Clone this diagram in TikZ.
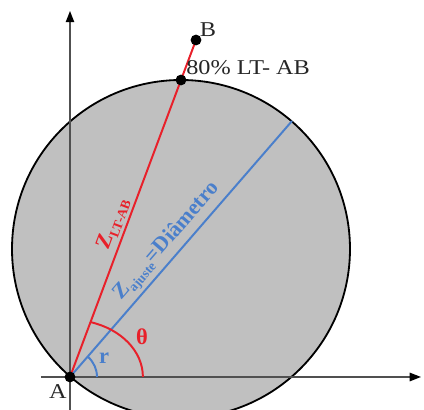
\documentclass[tikz,border=0pt]{standalone}
\usepackage{fontspec}
\setmainfont[FakeStretch=1.15]{Liberation Serif}
\newfontfamily\zfont{Liberation Serif}
\usepackage{tikz}
\usetikzlibrary{arrows.meta,positioning}
\definecolor{cgray}{HTML}{C0C0C0}
\definecolor{cred}{HTML}{E8202A}
\definecolor{cblue}{HTML}{4A7FCB}
\definecolor{caxis}{HTML}{505050}
\tikzset{
  lbl/.style={font=\fontsize{15}{17}\selectfont,text=black!85},
  circ/.style={draw=black,fill=cgray,line width=1.3pt},
  axis/.style={draw=caxis,line width=1.1pt,-{Triangle[length=8pt,width=6pt,color=black]}},
  redln/.style={draw=cred,line width=1.4pt},
  blueln/.style={draw=cblue,line width=1.4pt},
  zred/.style={font=\zfont\fontsize{15.5}{17}\selectfont\bfseries,text=cred},
  zblue/.style={font=\zfont\fontsize{15.5}{17}\selectfont\bfseries,text=cblue},
  ang/.style={font=\zfont\fontsize{16}{18}\selectfont\bfseries},
  dot/.style={circle,fill=black,inner sep=0pt,minimum size=0.27cm},
}
\newcommand{\zsub}[1]{\raisebox{-0.4ex}{\fontsize{9.5}{10}\selectfont #1}}
\begin{document}
\begin{tikzpicture}[x=0.025cm,y=0.025cm]
  \useasboundingbox (0,0) rectangle (424,410);
  \clip (0,0) rectangle (424,410);
  % pontos base
  \coordinate (A) at (70,33);
  \coordinate (O) at (181,161);
  \coordinate (P) at (181,330);
  \coordinate (B) at (196,370);
  \coordinate (D) at (292,289);
  \coordinate (xe) at (41,33);
  \coordinate (xd) at (421,33);
  \coordinate (yb) at (70,0);
  \coordinate (yt) at (70,399);
  % circunferencia
  \draw[circ] (O) circle[radius=169];
  % eixos
  \draw[axis] (xe) -- (xd);
  \draw[axis] (yb) -- (yt);
  % retas
  \draw[redln] (A) -- node[zred,sloped,above,pos=0.5,inner sep=2pt] (zlt) {Z\zsub{LT-AB}} (P) -- (B);
  \draw[blueln] (A) -- node[zblue,sloped,above,pos=0.49,inner sep=2pt] (zaj) {Z\zsub{ajuste}=Diâmetro} (D);
  % angulos
  \draw[redln] (A) ++(20,55) arc[start angle=74,end angle=0,x radius=73,y radius=57];
  \draw[blueln] (A) ++(49:27) arc[start angle=49,end angle=0,radius=27];
  \node[ang,text=cred] (th) at (142,73) {θ};
  \node[ang,text=cblue] (r) at (104,52) {r};
  % marcas
  \node[dot] (nA) at (A) {};
  \node[dot] (nP) at (P) {};
  \node[dot] (nB) at (B) {};
  \node[lbl] (lA) at (58,18) {A};
  \node[lbl] (lB) at (208,380) {B};
  \node[lbl,anchor=west,inner sep=0pt] (lP) at (186,342) {80\% LT- AB};
\end{tikzpicture}
\end{document}
